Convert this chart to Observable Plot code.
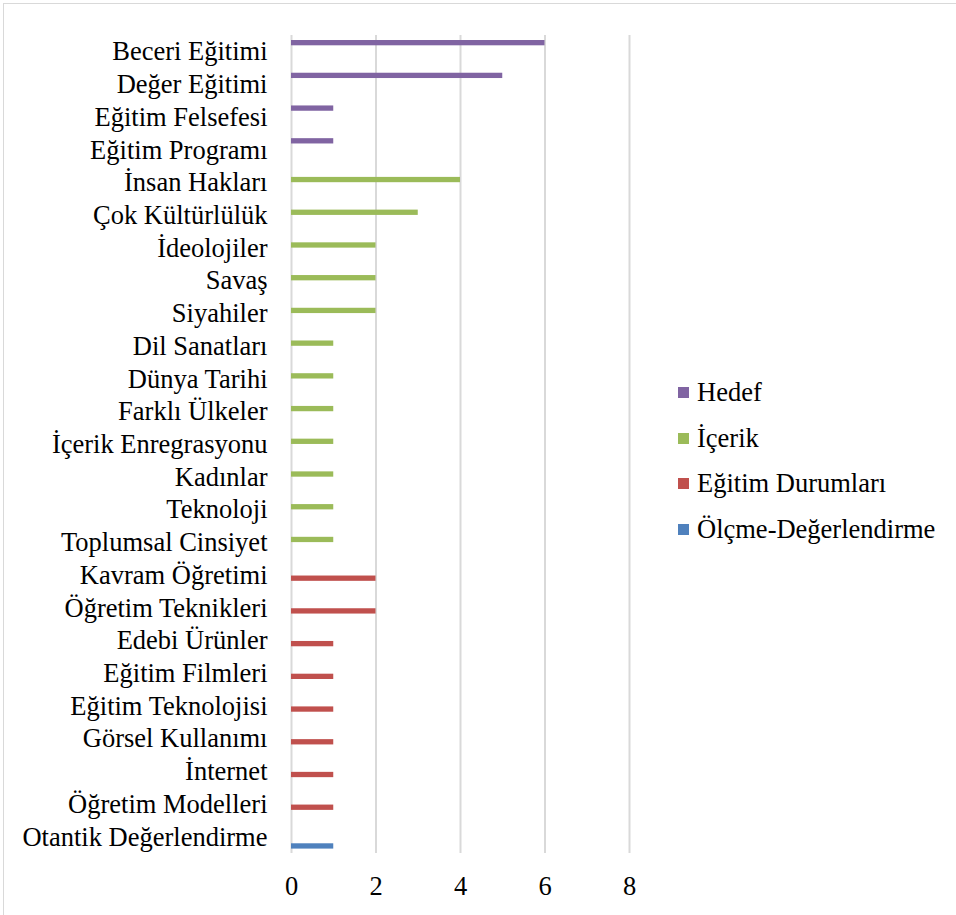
<!DOCTYPE html>
<html>
<head>
<meta charset="utf-8">
<script src="https://cdn.jsdelivr.net/npm/d3@7"></script>
<script src="https://cdn.jsdelivr.net/npm/@observablehq/plot@0.6"></script>
<style>
  html, body { margin: 0; padding: 0; background: #fff; }
  #wrap { position: relative; width: 956px; height: 915px; overflow: hidden; }
  #frame { position: absolute; left: 3px; top: 3px; width: 1000px; height: 1000px; border: 1.5px solid #d9d9d9; box-sizing: border-box; }
  #chart { position: absolute; left: 0; top: 0; }
  #legend { position: absolute; left: 678px; top: 370px; font-size: 26.5px; color: #000; }
  .item { display: flex; align-items: center; height: 45.5px; }
  .sw { width: 11px; height: 11px; margin-right: 8px; }
</style>
</head>
<body>
<div id="wrap">
  <div id="frame"></div>
  <div id="chart"></div>
  <div id="legend"></div>
</div>
<script>
const categories = [
  "Beceri Eğitimi", "Değer Eğitimi", "Eğitim Felsefesi", "Eğitim Programı",
  "İnsan Hakları", "Çok Kültürlülük", "İdeolojiler", "Savaş", "Siyahiler",
  "Dil Sanatları", "Dünya Tarihi", "Farklı Ülkeler", "İçerik Enregrasyonu",
  "Kadınlar", "Teknoloji", "Toplumsal Cinsiyet",
  "Kavram Öğretimi", "Öğretim Teknikleri", "Edebi Ürünler", "Eğitim Filmleri",
  "Eğitim Teknolojisi", "Görsel Kullanımı", "İnternet", "Öğretim Modelleri",
  "Otantik Değerlendirme"
];
const values = [6, 5, 1, 1, 4, 3, 2, 2, 2, 1, 1, 1, 1, 1, 1, 1, 2, 2, 1, 1, 1, 1, 1, 1, 1];
const seriesOf = [
  "Hedef", "Hedef", "Hedef", "Hedef",
  "İçerik", "İçerik", "İçerik", "İçerik", "İçerik", "İçerik", "İçerik", "İçerik", "İçerik", "İçerik", "İçerik", "İçerik",
  "Eğitim Durumları", "Eğitim Durumları", "Eğitim Durumları", "Eğitim Durumları", "Eğitim Durumları", "Eğitim Durumları", "Eğitim Durumları", "Eğitim Durumları",
  "Ölçme-Değerlendirme"
];
const seriesNames = ["Hedef", "İçerik", "Eğitim Durumları", "Ölçme-Değerlendirme"];
const seriesColors = ["#8064A2", "#9BBB59", "#C0504D", "#4F81BD"];
const xTicks = [0, 2, 4, 6, 8];

const FONT = "'Liberation Serif', 'Times New Roman', Times, serif";
const data = categories.map((c, i) => ({category: c, value: values[i], series: seriesOf[i]}));

const W = 956, H = 915, mTop = 35, mBottom = 62, mLeft = 291, mRight = 327;
const bw = (H - mTop - mBottom) / categories.length;
const barH = 5.3, slot = 6;

const barMarks = seriesNames.map((s, k) => {
  const off = (k - 1.5) * slot + 0.3;
  const insetTop = bw / 2 + off - barH / 2;
  const insetBottom = bw - insetTop - barH;
  return Plot.barX(data.filter(d => d.series === s), {
    x: "value", y: "category", fill: seriesColors[k], insetTop, insetBottom
  });
});

const chart = Plot.plot({
  width: W, height: H,
  marginTop: mTop, marginBottom: mBottom, marginLeft: mLeft, marginRight: mRight,
  style: {fontSize: "26.5px", color: "#000", background: "transparent"},
  x: {domain: [0, 8], ticks: xTicks, tickSize: 0, tickPadding: 23, label: null},
  y: {domain: categories, padding: 0, round: false, tickSize: 0, tickPadding: 24, label: null},
  marks: [
    Plot.ruleX(xTicks, {stroke: "#d9d9d9", strokeWidth: 2}),
    ...barMarks
  ]
});
chart.style.setProperty("font-family", FONT, "important");
chart.querySelectorAll("g, text").forEach(t => {
  t.setAttribute("font-family", FONT);
  t.style.setProperty("font-family", FONT, "important");
});
chart.querySelectorAll("text").forEach(t => t.setAttribute("fill", "#000"));
document.getElementById("chart").appendChild(chart);

const legend = document.getElementById("legend");
legend.style.setProperty("font-family", FONT, "important");
seriesNames.forEach((s, k) => {
  const it = document.createElement("div");
  it.className = "item";
  const sw = document.createElement("span");
  sw.className = "sw";
  sw.style.background = seriesColors[k];
  const tx = document.createElement("span");
  tx.textContent = s;
  tx.style.setProperty("font-family", FONT, "important");
  it.appendChild(sw); it.appendChild(tx);
  legend.appendChild(it);
});
</script>
</body>
</html>
